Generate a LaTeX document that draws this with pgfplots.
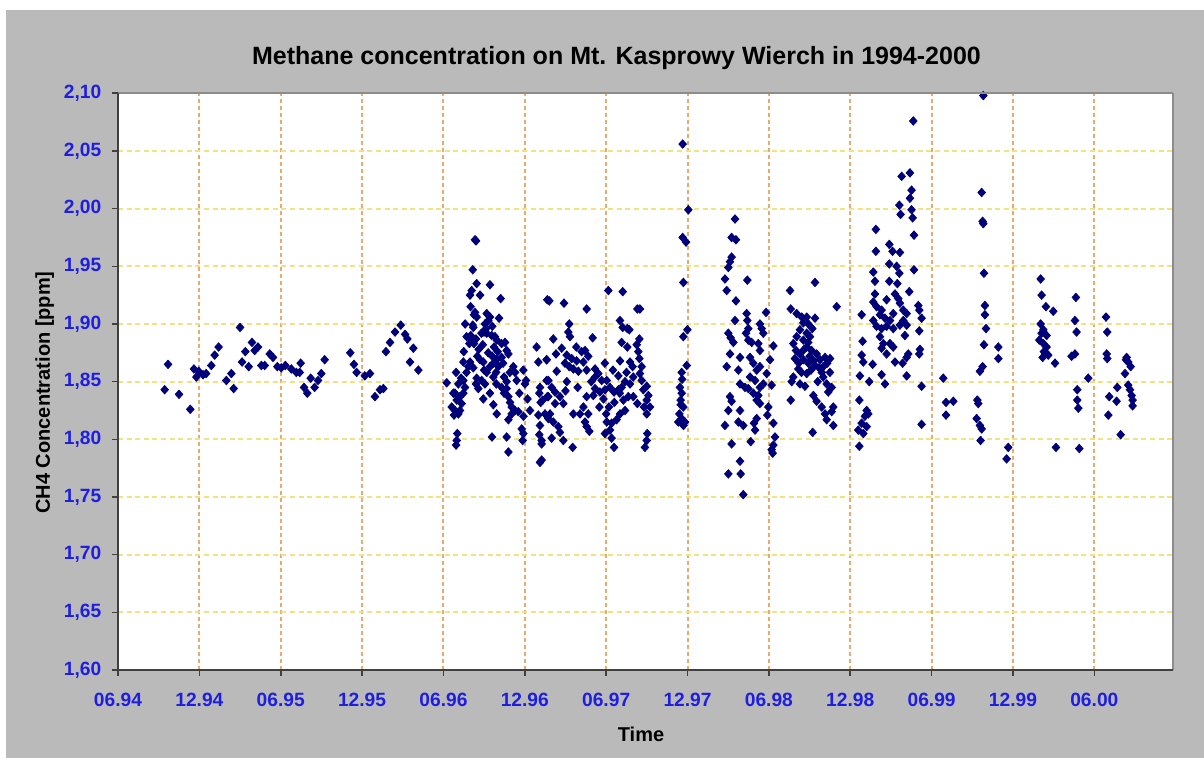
\documentclass[border=0pt]{standalone}
\usepackage{fontspec}
\setmainfont{Liberation Sans}
\usepackage{pgfplots}
\pgfplotsset{compat=1.18}
\definecolor{bg}{RGB}{186,186,186}
\definecolor{navy}{RGB}{0,0,120}
\definecolor{tickblue}{RGB}{30,30,225}
\definecolor{vgrid}{RGB}{228,172,112}
\definecolor{hgrid}{RGB}{240,228,130}
\begin{document}
\begin{tikzpicture}
\fill[white] (-59pt,-44pt) rectangle (543pt,335pt);
\fill[bg] (-56pt,-44pt) rectangle (543pt,330pt);
\begin{axis}[name=ax, at={(0,0)}, anchor=south west, scale only axis,
  width=527.35pt, height=288.35pt,
  xmin=0, xmax=77.78, ymin=1.6, ymax=2.1,
  axis background/.style={fill=white},
  axis line style={draw=none},
  xtick={0,6,12,18,24,30,36,42,48,54,60,66,72},
  xticklabels={06.94,12.94,06.95,12.95,06.96,12.96,06.97,12.97,06.98,12.98,06.99,12.99,06.00},
  ytick={1.60,1.65,1.70,1.75,1.80,1.85,1.90,1.95,2.00,2.05,2.10},
  /pgf/number format/assume math mode=true,
  tick label style={font=\fontsize{9.6}{11}\selectfont\bfseries, text=tickblue},
  xticklabel style={anchor=north, inner sep=0pt, yshift=-8.35pt},
  yticklabel style={anchor=east, inner sep=0pt, xshift=-5.15pt,
    /pgf/number format/fixed, /pgf/number format/fixed zerofill,
    /pgf/number format/precision=2, /pgf/number format/use comma},
  tick pos=left, tick align=outside, major tick length=3pt,
  tick style={black!75, line width=0.8pt},
  grid=major,
  x grid style={vgrid, line width=1pt, dash pattern=on 2pt off 1.5pt},
  y grid style={hgrid, line width=1pt, dash pattern=on 2.5pt off 1.8pt},
  clip=false,
]
\addplot[only marks, mark=diamond*, mark size=2.1pt, navy, mark options={fill=navy, draw=navy, xscale=1.2}] table {
x y
3.44 1.843
3.69 1.865
4.50 1.839
5.33 1.826
5.60 1.861
5.78 1.854
5.95 1.859
6.27 1.856
6.50 1.857
6.88 1.864
7.13 1.873
7.42 1.880
7.99 1.851
8.36 1.857
8.53 1.844
9.00 1.897
9.15 1.867
9.39 1.876
9.64 1.863
9.88 1.884
10.08 1.877
10.32 1.880
10.57 1.864
10.82 1.864
11.19 1.874
11.43 1.871
11.75 1.863
12.04 1.862
12.34 1.864
12.78 1.861
13.15 1.858
13.47 1.866
13.40 1.858
13.72 1.845
13.96 1.840
14.21 1.853
14.50 1.845
14.75 1.851
14.99 1.857
15.24 1.869
17.13 1.875
17.40 1.865
17.60 1.858
18.20 1.855
18.58 1.857
18.95 1.837
19.32 1.843
19.57 1.844
19.76 1.876
20.06 1.884
20.43 1.893
20.85 1.899
21.17 1.891
21.34 1.887
21.78 1.879
21.53 1.867
22.15 1.860
24.24 1.849
24.93 1.858
24.73 1.840
25.10 1.848
25.47 1.867
24.98 1.834
24.85 1.825
24.78 1.821
25.02 1.805
24.98 1.799
24.93 1.795
25.22 1.837
25.34 1.831
25.59 1.845
25.47 1.851
25.84 1.863
25.96 1.867
25.71 1.889
26.01 1.890
26.08 1.886
25.91 1.883
26.25 1.883
26.40 1.887
26.20 1.897
26.33 1.910
26.25 1.908
26.45 1.906
26.16 1.899
25.96 1.925
26.08 1.929
26.45 1.935
26.16 1.947
26.33 1.973
26.40 1.972
27.43 1.934
28.22 1.922
26.70 1.925
27.19 1.909
27.06 1.900
27.31 1.903
27.43 1.906
27.14 1.896
26.99 1.893
27.19 1.892
27.56 1.890
27.80 1.889
27.73 1.880
27.93 1.886
28.29 1.883
28.54 1.884
28.66 1.877
28.79 1.874
28.29 1.871
27.93 1.869
27.68 1.866
27.43 1.863
27.19 1.858
26.94 1.867
26.70 1.869
26.45 1.853
26.40 1.848
26.57 1.844
26.82 1.851
27.06 1.848
26.94 1.835
27.43 1.840
27.68 1.854
27.88 1.858
28.05 1.863
28.29 1.845
28.47 1.840
28.66 1.844
28.79 1.837
28.91 1.832
29.03 1.828
29.15 1.863
29.28 1.858
29.40 1.851
29.28 1.825
29.52 1.824
29.03 1.822
28.79 1.817
27.93 1.822
27.68 1.830
28.47 1.854
28.66 1.850
27.58 1.802
28.66 1.802
28.79 1.789
29.77 1.809
29.89 1.805
29.84 1.799
30.38 1.825
30.09 1.851
30.01 1.848
29.89 1.860
30.87 1.880
31.00 1.867
31.12 1.845
31.07 1.840
31.17 1.832
31.00 1.821
31.12 1.812
31.07 1.804
31.24 1.799
31.12 1.780
31.66 1.921
31.61 1.869
31.74 1.851
31.66 1.837
24.61 1.828
25.22 1.825
25.10 1.822
25.47 1.840
24.85 1.840
26.60 1.878
26.90 1.882
27.30 1.875
27.60 1.872
28.00 1.876
28.40 1.866
26.20 1.862
26.50 1.872
27.00 1.860
27.90 1.848
28.90 1.858
29.60 1.840
30.20 1.835
29.90 1.820
25.70 1.858
25.30 1.853
26.80 1.892
27.60 1.898
28.10 1.905
25.50 1.876
25.60 1.900
26.00 1.915
31.81 1.920
32.89 1.918
34.56 1.913
36.16 1.929
37.22 1.928
38.30 1.913
38.49 1.913
33.28 1.900
33.21 1.893
33.33 1.889
32.10 1.887
35.00 1.888
37.02 1.903
37.22 1.897
37.56 1.896
37.71 1.895
38.45 1.887
37.14 1.884
37.56 1.880
38.25 1.882
38.37 1.876
31.61 1.869
32.30 1.874
32.72 1.879
33.09 1.873
33.46 1.870
33.82 1.868
34.19 1.876
34.44 1.877
34.68 1.872
34.32 1.867
33.58 1.861
32.35 1.859
32.96 1.866
33.28 1.863
33.95 1.859
34.56 1.860
35.18 1.861
35.18 1.854
35.42 1.857
35.67 1.851
36.04 1.851
36.28 1.845
36.58 1.841
36.90 1.843
37.14 1.845
37.39 1.850
37.76 1.848
38.00 1.854
37.95 1.863
37.76 1.867
37.02 1.868
38.45 1.870
38.62 1.863
38.49 1.857
38.62 1.851
38.99 1.846
38.74 1.843
39.11 1.838
38.99 1.834
39.23 1.828
38.79 1.828
38.30 1.831
38.00 1.837
37.63 1.837
37.27 1.834
37.39 1.825
37.02 1.822
36.77 1.817
36.40 1.814
36.04 1.815
36.28 1.808
35.91 1.805
36.40 1.801
36.58 1.793
38.99 1.822
39.03 1.805
38.99 1.799
38.86 1.793
35.05 1.838
34.56 1.837
34.32 1.828
34.07 1.822
33.58 1.822
34.68 1.822
34.44 1.815
34.76 1.807
34.56 1.811
31.61 1.851
31.98 1.845
32.23 1.841
31.73 1.837
32.59 1.837
32.84 1.831
32.23 1.831
31.86 1.822
31.73 1.818
32.10 1.815
32.47 1.811
32.59 1.806
31.98 1.801
32.84 1.799
33.53 1.793
31.24 1.796
31.24 1.782
31.49 1.822
31.32 1.834
35.18 1.844
35.54 1.841
35.91 1.843
35.80 1.835
36.20 1.828
36.60 1.832
37.00 1.840
35.50 1.828
33.90 1.845
34.90 1.850
33.10 1.850
36.90 1.855
37.50 1.858
36.50 1.860
35.90 1.866
33.80 1.880
33.00 1.842
36.00 1.822
41.64 2.056
42.06 1.999
41.64 1.975
41.89 1.971
41.69 1.936
41.99 1.895
41.69 1.889
41.94 1.864
41.57 1.858
41.44 1.845
41.57 1.840
41.49 1.834
41.69 1.828
41.40 1.822
41.57 1.818
41.81 1.815
41.32 1.815
41.60 1.852
41.50 1.830
41.70 1.812
45.50 1.991
45.25 1.975
45.57 1.973
45.25 1.958
45.13 1.954
45.01 1.949
44.76 1.939
44.89 1.929
46.41 1.938
45.57 1.920
45.50 1.903
45.01 1.892
45.18 1.888
45.38 1.884
46.36 1.909
46.41 1.903
46.48 1.896
46.31 1.892
46.48 1.886
46.73 1.884
47.79 1.910
47.34 1.900
47.47 1.896
47.59 1.892
47.22 1.883
47.34 1.877
48.33 1.881
48.08 1.869
45.13 1.874
45.87 1.871
46.61 1.871
46.85 1.866
47.10 1.860
47.34 1.863
44.89 1.863
45.75 1.860
46.61 1.854
46.98 1.851
45.87 1.848
46.24 1.845
46.48 1.844
46.85 1.840
47.22 1.838
47.34 1.845
47.59 1.848
47.84 1.857
48.20 1.847
45.13 1.837
45.25 1.833
45.01 1.825
45.87 1.825
47.10 1.834
47.34 1.831
47.96 1.828
47.89 1.821
44.76 1.812
45.75 1.815
46.11 1.812
47.10 1.818
46.90 1.814
46.98 1.808
48.33 1.814
48.45 1.802
48.33 1.795
48.20 1.791
48.28 1.788
45.25 1.796
46.66 1.798
45.87 1.781
45.01 1.770
45.92 1.770
46.11 1.752
49.56 1.929
51.40 1.936
53.00 1.915
49.61 1.913
50.05 1.909
50.42 1.906
50.79 1.906
51.40 1.905
50.54 1.901
50.91 1.900
50.29 1.895
50.79 1.892
51.03 1.889
50.54 1.886
50.05 1.889
49.80 1.883
50.79 1.880
51.15 1.877
51.52 1.874
51.77 1.869
52.14 1.871
52.51 1.870
50.29 1.874
49.92 1.870
50.54 1.869
50.91 1.866
51.40 1.864
52.01 1.863
50.17 1.861
50.79 1.857
49.80 1.854
49.68 1.850
50.29 1.848
50.66 1.846
52.01 1.854
52.26 1.848
52.63 1.845
52.38 1.841
51.28 1.838
51.52 1.833
51.89 1.828
52.75 1.828
52.63 1.824
52.14 1.822
52.26 1.817
52.75 1.812
49.61 1.834
51.23 1.806
50.60 1.878
51.00 1.872
51.30 1.868
50.20 1.866
51.70 1.862
51.90 1.858
50.90 1.884
51.20 1.896
50.40 1.858
51.60 1.850
50.00 1.877
52.30 1.866
51.10 1.860
52.50 1.858
54.84 1.908
54.91 1.885
54.84 1.873
54.96 1.867
55.65 1.865
54.71 1.855
55.40 1.850
54.67 1.834
55.21 1.825
55.33 1.822
55.08 1.820
54.84 1.814
54.59 1.808
54.96 1.805
55.21 1.811
54.67 1.794
55.89 1.982
55.89 1.963
56.88 1.969
57.12 1.963
57.66 1.962
56.88 1.952
57.42 1.950
57.62 1.944
55.70 1.945
55.82 1.937
56.88 1.937
57.47 1.935
58.35 1.928
55.82 1.926
55.70 1.919
55.94 1.915
56.31 1.912
56.68 1.921
57.30 1.926
57.54 1.922
57.66 1.918
57.91 1.912
58.16 1.909
56.19 1.908
56.56 1.905
56.93 1.903
57.17 1.909
57.91 1.903
58.16 1.899
59.02 1.916
59.09 1.912
59.26 1.905
55.70 1.903
55.94 1.898
56.31 1.896
56.68 1.898
57.17 1.896
57.66 1.899
58.03 1.890
56.19 1.889
56.44 1.883
56.93 1.883
57.17 1.880
56.31 1.879
56.68 1.874
57.30 1.867
57.86 1.866
58.16 1.871
58.28 1.874
59.09 1.894
59.14 1.878
59.09 1.874
56.31 1.856
56.56 1.848
58.16 1.855
59.26 1.846
59.26 1.813
57.79 2.028
58.40 2.031
58.52 2.016
58.40 2.009
57.62 2.003
57.71 1.995
58.52 1.999
58.60 1.992
58.70 1.977
58.70 1.947
58.65 2.076
63.81 2.098
63.69 2.014
63.76 1.989
63.81 1.987
63.86 1.944
63.93 1.916
63.93 1.908
64.01 1.896
63.86 1.882
64.92 1.880
64.92 1.870
63.76 1.863
63.56 1.859
60.86 1.853
61.06 1.832
61.60 1.833
61.06 1.821
63.37 1.834
63.44 1.831
63.32 1.818
63.56 1.812
63.69 1.809
63.61 1.799
65.65 1.793
65.53 1.783
68.04 1.939
68.11 1.925
68.43 1.915
68.97 1.911
68.04 1.900
68.24 1.895
68.48 1.890
67.94 1.886
68.24 1.883
68.48 1.880
68.28 1.876
68.19 1.871
68.60 1.873
69.10 1.866
68.11 1.892
69.17 1.793
70.64 1.923
70.57 1.903
70.69 1.893
70.32 1.872
70.57 1.874
71.55 1.853
70.74 1.843
70.74 1.834
70.82 1.827
70.89 1.792
72.86 1.906
72.95 1.893
72.91 1.874
72.95 1.870
73.10 1.837
73.03 1.821
73.69 1.845
73.64 1.833
73.94 1.804
74.38 1.871
74.50 1.867
74.33 1.869
74.68 1.863
74.26 1.857
74.50 1.847
74.63 1.843
74.75 1.838
74.82 1.834
74.82 1.829
};
\end{axis}
\draw[black!45, line width=0.8pt] (ax.north west) -- (ax.north east);
\draw[black!45, line width=1pt] (ax.north east) -- (ax.south east);
\draw[black!75, line width=1pt] (ax.north west) -- (ax.south west) -- (ax.south east);
\node[anchor=base, inner sep=0pt, font=\fontsize{12.5}{15}\selectfont\bfseries] at (249.25pt,302.5pt) {Methane concentration on Mt. Kasprowy Wierch in 1994-2000};
\node[anchor=base, inner sep=0pt, font=\fontsize{10}{12}\selectfont\bfseries] at (261.5pt,-36pt) {Time};
\node[anchor=base, rotate=90, inner sep=0pt, font=\fontsize{10}{12}\selectfont\bfseries] at (-34pt,138.75pt) {CH4 Concentration [ppm]};
\end{tikzpicture}
\end{document}
